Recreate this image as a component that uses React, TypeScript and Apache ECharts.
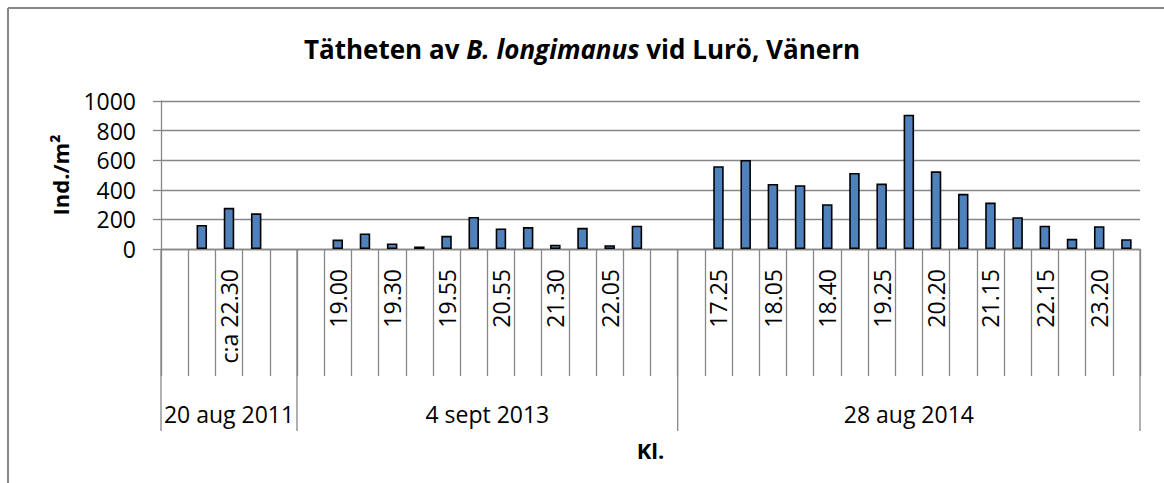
import React, { useEffect, useRef } from 'react';
import * as echarts from 'echarts';

// ---- data ----
const groupNames = ['20 aug 2011', '4 sept 2013', '28 aug 2014'];
// clock times per group (only every other label is shown in the original)
const group1Times = ['', '', 'c:a 22.30', '', ''];
const group2Times = ['', '19.00', '', '19.30', '', '19.55', '', '20.55', '', '21.30', '', '22.05', '', ''];
const group3Times = ['', '17.25', '', '18.05', '', '18.40', '', '19.25', '', '20.20', '', '21.15', '', '22.15', '', '23.20', ''];
// densities, Ind./m²
const group1Values = [null, 163, 278, 241, null];
const group2Values = [null, 64, 105, 37, 17, 89, 217, 139, 148, 29, 143, 26, 157, null];
const group3Values = [null, 559, 602, 440, 431, 303, 514, 442, 907, 525, 373, 314, 215, 157, 69, 154, 66];
const yTicks = [0, 200, 400, 600, 800, 1000];

const titleRegular1 = 'Tätheten av ';
const titleItalic = 'B. longimanus';
const titleRegular2 = ' vid Lurö, Vänern';
const xName = 'Kl.';
const yName = 'Ind./m²';

const FONT = 'Open Sans';
const GRID_COLOR = '#878787';

export default function App() {
  const ref = useRef<HTMLDivElement>(null);
  useEffect(() => {
    document.body.style.margin = '0';
    document.body.style.overflow = 'hidden';
    if (!ref.current) return;
    const chart = echarts.init(ref.current, null, { renderer: 'svg' });

    const times = [...group1Times, ...group2Times, ...group3Times];
    const values = [...group1Values, ...group2Values, ...group3Values];
    const sizes = [group1Times.length, group2Times.length, group3Times.length];
    const spans: number[][] = [];
    let acc = 0;
    sizes.forEach((s) => {
      spans.push([acc, acc + s]);
      acc += s;
    });
    const total = acc;

    chart.setOption({
      animation: false,
      title: {
        text: `{b|${titleRegular1}}{i|${titleItalic}}{b|${titleRegular2}}`,
        left: 'center',
        top: 31,
        textStyle: {
          rich: {
            b: { fontFamily: FONT, fontWeight: 'bold', fontSize: 26, color: '#000' },
            i: { fontFamily: FONT, fontWeight: 'bold', fontStyle: 'italic', fontSize: 26, color: '#000' },
          },
        },
      },
      grid: { left: 161, right: 24, top: 101, bottom: 234, containLabel: false, outerBoundsMode: 'none' },
      graphic: [
        { type: 'line', shape: { x1: 8, y1: 8, x2: 8, y2: 483 }, style: { stroke: GRID_COLOR, lineWidth: 2 } },
        { type: 'line', shape: { x1: 8, y1: 8, x2: 1164, y2: 8 }, style: { stroke: GRID_COLOR, lineWidth: 2 } },
      ],
      xAxis: [
        {
          type: 'category',
          data: times,
          axisLine: { show: true, lineStyle: { color: GRID_COLOR, width: 1.3 } },
          axisTick: { show: true, interval: 0, length: 127, alignWithLabel: false, lineStyle: { color: GRID_COLOR, width: 1.3 } },
          axisLabel: { interval: 0, rotate: 90, fontFamily: FONT, fontSize: 23, color: '#000', margin: 20 },
          splitLine: { show: false },
          name: xName,
          nameLocation: 'middle',
          nameGap: 190,
          nameTextStyle: { fontFamily: FONT, fontWeight: 'bold', fontSize: 22, color: '#000' },
        },
        { type: 'value', min: 0, max: total, show: false },
      ],
      yAxis: {
        type: 'value',
        min: yTicks[0],
        max: yTicks[yTicks.length - 1],
        interval: yTicks[1] - yTicks[0],
        axisLine: { show: true, lineStyle: { color: GRID_COLOR, width: 1.3 } },
        axisTick: { show: true, length: 8, lineStyle: { color: GRID_COLOR, width: 1.3 } },
        axisLabel: { fontFamily: FONT, fontSize: 23, color: '#000', margin: 25, formatter: (v: number) => String(v) },
        splitLine: { show: true, lineStyle: { color: GRID_COLOR, width: 1.3 } },
        name: yName,
        nameLocation: 'middle',
        nameRotate: 90,
        nameGap: 90,
        nameTextStyle: { fontFamily: FONT, fontWeight: 'bold', fontSize: 22, color: '#000' },
      },
      series: [
        {
          type: 'bar',
          data: values,
          xAxisIndex: 0,
          yAxisIndex: 0,
          barWidth: 10.5,
          itemStyle: { color: '#4F81BD', borderColor: '#000', borderWidth: 1.6 },
        },
        {
          type: 'custom',
          xAxisIndex: 1,
          yAxisIndex: 0,
          clip: false,
          silent: true,
          encode: { x: [0, 1] },
          data: spans,
          renderItem: (params: any, api: any) => {
            const a = api.coord([api.value(0), 0]);
            const b = api.coord([api.value(1), 0]);
            const children: any[] = [
              {
                type: 'line',
                shape: { x1: a[0], y1: a[1], x2: a[0], y2: a[1] + 182 },
                style: { stroke: GRID_COLOR, lineWidth: 1.3 },
              },
              {
                type: 'text',
                x: (a[0] + b[0]) / 2,
                y: a[1] + 165,
                style: {
                  text: groupNames[params.dataIndex],
                  fontFamily: FONT,
                  fontSize: 23,
                  fill: '#000',
                  align: 'center',
                  verticalAlign: 'middle',
                },
              },
            ];
            if (params.dataIndex === spans.length - 1) {
              children.push({
                type: 'line',
                shape: { x1: b[0], y1: b[1], x2: b[0], y2: b[1] + 182 },
                style: { stroke: GRID_COLOR, lineWidth: 1.3 },
              });
            }
            return { type: 'group', children };
          },
        },
      ],
    });
    return () => chart.dispose();
  }, []);
  return <div ref={ref} style={{ width: 1164, height: 483 }} />;
}
